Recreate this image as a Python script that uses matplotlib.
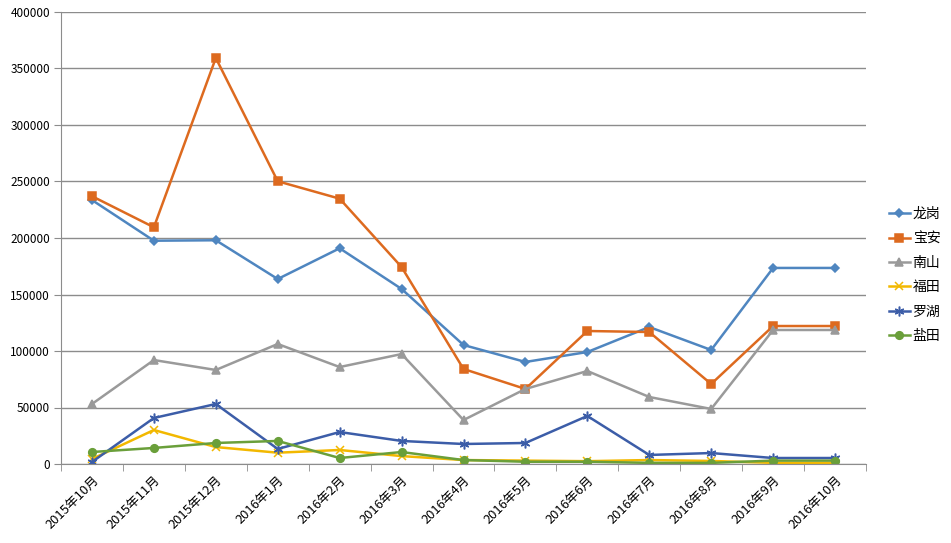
import matplotlib
matplotlib.use("Agg")
import matplotlib.pyplot as plt
import numpy as np

plt.rcParams['font.family'] = ['Noto Sans CJK SC', 'DejaVu Sans']

months = ['2015年10月', '2015年11月', '2015年12月', '2016年1月', '2016年2月',
          '2016年3月', '2016年4月', '2016年5月', '2016年6月', '2016年7月',
          '2016年8月', '2016年9月', '2016年10月']

longgang = [233600, 197600, 198000, 163700, 190900, 154900, 105300,
            90300, 99100, 121200, 100900, 173500, 173500]
baoan = [237000, 209500, 359300, 250200, 234800, 174300, 84100,
         66400, 117700, 116800, 70800, 122100, 122100]
nanshan = [53100, 92000, 83200, 106200, 85800, 97300, 38900,
           66400, 82300, 59300, 48700, 118600, 118600]
futian = [4400, 30100, 15000, 10000, 12400, 7000, 3500,
          3000, 2500, 3500, 2700, 1000, 1000]
luohu = [1800, 40700, 53100, 13300, 28300, 20400, 17700,
         18600, 42500, 8000, 9700, 5300, 5300]
yantian = [10600, 14200, 18600, 20400, 5300, 10600, 3500,
           2000, 2000, 1000, 1000, 3000, 3000]

series = [
    ('龙岗', longgang, '#4F86C0', 'D', 4),
    ('宝安', baoan, '#DD6A1F', 's', 5.5),
    ('南山', nanshan, '#9A9A9A', '^', 5.5),
    ('福田', futian, '#F2B800', 'x', 5.5),
    ('罗湖', luohu, '#3C5DA8', (6, 2, 0), 7),
    ('盐田', yantian, '#6A9F3A', 'o', 5.5),
]

fig = plt.figure(figsize=(9.51, 5.43), dpi=100)
ax = fig.add_axes([61 / 951, 79 / 543, 805 / 951, 452 / 543])

x = np.arange(len(months))
for name, vals, color, marker, ms in series:
    ax.plot(x, vals, color=color, linewidth=1.8, marker=marker, markersize=ms,
            markeredgecolor=color, markerfacecolor=color, markeredgewidth=1.1,
            label=name)

ax.set_xlim(-0.5, len(months) - 0.5)
ax.set_ylim(0, 400000)
ax.set_yticks(np.arange(0, 400001, 50000))
ax.set_yticklabels([str(v) for v in range(0, 400001, 50000)], fontsize=8.5)
ax.yaxis.grid(True, color='#8C8C8C', linewidth=1)
ax.set_axisbelow(True)

ax.set_xticks(x)
ax.set_xticklabels(months, rotation=45, ha='right', va='top',
                   rotation_mode='anchor', fontsize=9.3)
ax.tick_params(axis='x', length=0, pad=7)
ax.set_xticks(np.arange(-0.5, len(months)), minor=True)
ax.tick_params(axis='x', which='minor', length=5, color='#8C8C8C', direction='out')
ax.tick_params(axis='y', length=5, color='#8C8C8C', direction='out', pad=3)

for s in ['top', 'right']:
    ax.spines[s].set_visible(False)
for s in ['left', 'bottom']:
    ax.spines[s].set_color('#8C8C8C')

ax.legend(loc='center left', bbox_to_anchor=(889 / 951, 268 / 543),
          bbox_transform=fig.transFigure, frameon=False, fontsize=10,
          handlelength=1.5, labelspacing=0.75, handletextpad=0.2,
          borderaxespad=0, borderpad=0)

fig.savefig('out.png', dpi=100)
